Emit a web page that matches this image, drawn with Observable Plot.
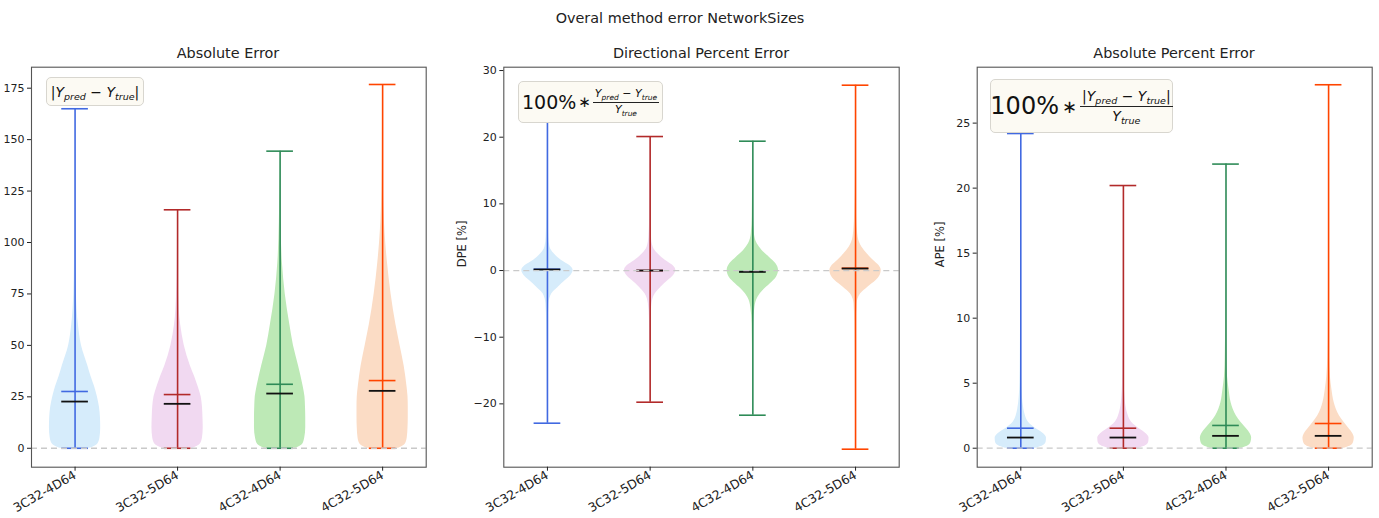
<!DOCTYPE html>
<html>
<head>
<meta charset="utf-8">
<script src="https://cdn.jsdelivr.net/npm/d3@7"></script>
<script src="https://cdn.jsdelivr.net/npm/@observablehq/plot@0.6"></script>
<style>
  body { margin: 0; background: #fff; font-family: "DejaVu Sans", sans-serif; color: #222; }
  #fig { position: relative; width: 1379px; height: 518px; overflow: hidden; background: #fff; }
  .panel { position: absolute; top: 0; }
  .title { position: absolute; white-space: nowrap; transform: translateX(-50%); font-size: 14.4px; line-height: 1; }
  .fbox { position: absolute; box-sizing: border-box; background: #fcfaf3; border: 1px solid #d8d6cf;
          border-radius: 5px; display: flex; align-items: center; justify-content: center; white-space: nowrap;
          font-family: "DejaVu Sans", sans-serif; color: #111; }
  .fbox i { font-style: italic; }
  .fbox sub { font-size: 68%; vertical-align: -0.35em; line-height: 0; }
  .frac { display: inline-flex; flex-direction: column; align-items: center; vertical-align: middle; line-height: 1.15; }
  .frac .num { border-bottom: 1px solid #222; padding: 0 2px 1px 2px; }
  .frac .den { padding-top: 1px; }
</style>
</head>
<body>
<div id="fig">
  <div class="title" style="left:680px;top:11px">Overal method error NetworkSizes</div>
  <div class="title" style="left:228px;top:46px">Absolute Error</div>
  <div class="title" style="left:701px;top:46px">Directional Percent Error</div>
  <div class="title" style="left:1174px;top:46px">Absolute Percent Error</div>
</div>
<script>
// Network size variants shown on every panel
const categories = ["3C32-4D64", "3C32-5D64", "4C32-4D64", "4C32-5D64"];
const lineColors = ["#4169e1", "#b22a2a", "#2e8b57", "#ff4500"];
const fillColors = ["#d6ecfb", "#f1d9f1", "#bde9b6", "#fbdcc5"];

// Absolute Error: extremes, mean, median
const aeMin = [0, 0, 0, 0];
const aeMax = [165.0, 115.9, 144.4, 176.8];
const aeMean = [27.6, 26.1, 31.1, 32.9];
const aeMedian = [22.7, 21.6, 26.6, 27.9];
// Absolute Error: violin outline (value levels and relative half-widths)
const aeLevels = [
  [0, 2, 5, 10, 15, 20, 25, 30, 35, 40, 50, 60, 75, 90, 110, 135, 165.0],
  [0, 2, 5, 10, 15, 20, 25, 30, 35, 40, 50, 60, 75, 90, 115.9],
  [0, 2, 5, 10, 15, 20, 25, 30, 40, 50, 60, 75, 90, 110, 125, 144.4],
  [0, 2, 5, 10, 15, 20, 25, 30, 40, 50, 60, 75, 90, 100, 110, 125, 150, 176.8]
];
const aeWidths = [
  [0.6, 0.88, 0.97, 1.0, 0.99, 0.95, 0.87, 0.76, 0.62, 0.5, 0.25, 0.13, 0.05, 0.025, 0.012, 0.005, 0],
  [0.6, 0.88, 0.97, 1.0, 0.99, 0.97, 0.92, 0.8, 0.66, 0.5, 0.26, 0.12, 0.04, 0.015, 0],
  [0.62, 0.88, 0.96, 1.0, 1.0, 0.99, 0.97, 0.9, 0.72, 0.52, 0.38, 0.2, 0.09, 0.03, 0.012, 0],
  [0.62, 0.88, 0.96, 0.99, 1.0, 1.0, 0.99, 0.95, 0.84, 0.68, 0.52, 0.33, 0.19, 0.12, 0.07, 0.03, 0.008, 0]
];

// Directional Percent Error
const dpeMin = [-22.9, -19.75, -21.7, -26.8];
const dpeMax = [24.0, 20.1, 19.4, 27.8];
const dpeMean = [0.2, 0.0, -0.15, 0.35];
const dpeMedian = [0.15, 0.0, -0.2, 0.3];
const dpeLevels = [
  [-22.9, -15, -8, -5, -3.5, -2.5, -1.5, -0.7, 0, 0.7, 1.5, 2.5, 3.5, 5, 8, 15, 24.0],
  [-19.75, -12, -7, -5, -3.5, -2.5, -1.5, -0.7, 0, 0.7, 1.5, 2.5, 3.5, 5, 8, 14, 20.1],
  [-21.7, -14, -8, -5.5, -4, -3, -2, -1, 0, 1, 2, 3, 4, 5.5, 8, 14, 19.4],
  [-26.8, -15, -8, -5, -3.5, -2.5, -1.5, -0.7, 0, 0.7, 1.5, 2.5, 3.5, 5, 8, 15, 27.8]
];
const dpeWidths = [
  [0, 0.01, 0.03, 0.06, 0.17, 0.42, 0.7, 0.92, 1.0, 0.88, 0.55, 0.26, 0.1, 0.05, 0.03, 0.01, 0],
  [0, 0.01, 0.03, 0.07, 0.2, 0.42, 0.7, 0.92, 1.0, 0.9, 0.6, 0.3, 0.12, 0.05, 0.02, 0.01, 0],
  [0, 0.01, 0.03, 0.08, 0.2, 0.4, 0.68, 0.92, 1.0, 0.9, 0.64, 0.36, 0.17, 0.06, 0.025, 0.01, 0],
  [0, 0.01, 0.03, 0.06, 0.2, 0.48, 0.8, 0.96, 1.0, 0.92, 0.7, 0.45, 0.25, 0.1, 0.04, 0.01, 0]
];

// Absolute Percent Error
const apeMin = [0, 0, 0, 0];
const apeMax = [24.2, 20.2, 21.85, 27.95];
const apeMean = [1.54, 1.54, 1.75, 1.9];
const apeMedian = [0.82, 0.82, 0.95, 0.95];
const apeLevels = [
  [0, 0.2, 0.5, 0.8, 1.1, 1.5, 2, 2.5, 3, 4, 5, 7, 10, 15, 24.2],
  [0, 0.2, 0.5, 0.8, 1.1, 1.5, 2, 2.5, 3, 4, 5, 7, 10, 15, 20.2],
  [0, 0.2, 0.5, 0.8, 1.1, 1.5, 2, 2.5, 3, 3.5, 4.5, 5.5, 7, 10, 15, 21.85],
  [0, 0.2, 0.5, 0.8, 1.1, 1.5, 2, 2.5, 3, 3.5, 4.5, 5.5, 7, 10, 15, 27.95]
];
const apeWidths = [
  [0.6, 0.88, 0.99, 1.0, 0.9, 0.6, 0.3, 0.18, 0.12, 0.06, 0.035, 0.02, 0.01, 0.004, 0],
  [0.6, 0.88, 0.99, 1.0, 0.9, 0.62, 0.32, 0.19, 0.12, 0.06, 0.035, 0.02, 0.01, 0.004, 0],
  [0.62, 0.88, 0.98, 1.0, 0.95, 0.8, 0.58, 0.4, 0.28, 0.2, 0.12, 0.06, 0.03, 0.012, 0.004, 0],
  [0.62, 0.88, 0.98, 1.0, 0.95, 0.8, 0.6, 0.42, 0.3, 0.22, 0.13, 0.07, 0.035, 0.014, 0.005, 0]
];

// Tick values
const aeTicks = [0, 25, 50, 75, 100, 125, 150, 175];
const dpeTicks = [-20, -10, 0, 10, 20, 30];
const apeTicks = [0, 5, 10, 15, 20, 25];

const positions = [1, 2, 3, 4];
const HALF = 0.25;   // violin half-width at peak density
const CAP = 0.13;    // half-length of whisker caps and stat lines

function statsRows(mins, maxs, means, medians) {
  return categories.map((c, i) => ({
    cat: c, pos: positions[i], min: mins[i], max: maxs[i], mean: means[i], median: medians[i],
    line: lineColors[i]
  }));
}
function profileRows(levels, widths) {
  return categories.flatMap((c, i) => levels[i].map((y, j) => ({
    cat: c, pos: positions[i], y, w: widths[i][j], fill: fillColors[i]
  })));
}
const minus = d => (d < 0 ? "\u2212" + Math.abs(d) : String(d));

function panel({left, width, marginLeft, marginRight, domain, ticks, stats, profile, ylabel, labelDx}) {
  const marks = [
    Plot.areaX(profile, {
      y: "y", x1: d => d.pos - HALF * d.w, x2: d => d.pos + HALF * d.w,
      z: "cat", fill: "fill", curve: "monotone-y"
    }),
    Plot.ruleX(stats, {x: "pos", y1: "min", y2: "max", stroke: "line", strokeWidth: 1.6}),
    Plot.ruleY(stats, {y: "max", x1: d => d.pos - CAP, x2: d => d.pos + CAP, stroke: "line", strokeWidth: 1.6}),
    Plot.ruleY(stats, {y: "min", x1: d => d.pos - CAP, x2: d => d.pos + CAP, stroke: "line", strokeWidth: 1.6}),
    Plot.ruleY(stats, {y: "mean", x1: d => d.pos - CAP, x2: d => d.pos + CAP, stroke: "line", strokeWidth: 1.6}),
    Plot.ruleY(stats, {y: "median", x1: d => d.pos - CAP, x2: d => d.pos + CAP, stroke: "#111", strokeWidth: 1.8}),
    Plot.ruleY([0], {stroke: "#c9c9c9", strokeWidth: 1.3, strokeDasharray: "6,4"}),
    Plot.frame({stroke: "#555", strokeWidth: 1.1}),
    Plot.axisY({ticks, tickFormat: minus, tickSize: 4, tickPadding: 3, label: null, fontSize: 11}),
    Plot.axisX({ticks: positions, tickFormat: p => categories[p - 1], tickRotate: -30, tickSize: 4,
                tickPadding: 3, label: null, fontSize: 12.4})
  ];
  if (ylabel) {
    marks.push(Plot.text([ylabel], {frameAnchor: "left", text: d => d, rotate: -90, dx: labelDx,
                                     fontSize: 11.5, fill: "#222"}));
  }
  const svg = Plot.plot({
    width, height: 518,
    marginTop: 66.7, marginBottom: 51.3, marginLeft, marginRight,
    style: {fontFamily: "DejaVu Sans, sans-serif", fontSize: "11px", color: "#222", background: "transparent", overflow: "visible"},
    x: {domain: [0.575, 4.425]},
    y: {domain},
    color: {type: "identity"},
    marks
  });
  const div = document.createElement("div");
  div.className = "panel";
  div.style.left = left + "px";
  div.appendChild(svg);
  document.getElementById("fig").appendChild(div);
}

panel({left: 0, width: 440, marginLeft: 31, marginRight: 14.3, domain: [-9.2, 185.2], ticks: aeTicks,
       stats: statsRows(aeMin, aeMax, aeMean, aeMedian), profile: profileRows(aeLevels, aeWidths)});
panel({left: 460, width: 450, marginLeft: 43.3, marginRight: 11.3, domain: [-29.5, 30.5], ticks: dpeTicks,
       stats: statsRows(dpeMin, dpeMax, dpeMean, dpeMedian), profile: profileRows(dpeLevels, dpeWidths),
       ylabel: "DPE [%]", labelDx: -41});
panel({left: 930, width: 449, marginLeft: 46.7, marginRight: 7.3, domain: [-1.46, 29.3], ticks: apeTicks,
       stats: statsRows(apeMin, apeMax, apeMean, apeMedian), profile: profileRows(apeLevels, apeWidths),
       ylabel: "APE [%]", labelDx: -37});

// Formula boxes naming each error metric
const fig = document.getElementById("fig");
function box(style, html) {
  const d = document.createElement("div");
  d.className = "fbox";
  d.setAttribute("style", style);
  d.innerHTML = html;
  fig.appendChild(d);
}
box("left:46px;top:77px;width:98px;height:29px;font-size:14px",
    '<span>|<i>Y</i><sub><i>pred</i></sub> \u2212 <i>Y</i><sub><i>true</i></sub>|</span>');
box("left:518px;top:81px;width:145px;height:42px",
    '<span style="font-size:19px">100%</span><span style="font-size:15px;margin:0 2px">\u2217</span>' +
    '<span class="frac" style="font-size:11px"><span class="num"><i>Y</i><sub><i>pred</i></sub> \u2212 <i>Y</i><sub><i>true</i></sub></span>' +
    '<span class="den"><i>Y</i><sub><i>true</i></sub></span></span>');
box("left:990px;top:79px;width:183px;height:54px",
    '<span style="font-size:24px">100%</span><span style="font-size:18px;margin:0 3px">\u2217</span>' +
    '<span class="frac" style="font-size:14px"><span class="num">|<i>Y</i><sub><i>pred</i></sub> \u2212 <i>Y</i><sub><i>true</i></sub>|</span>' +
    '<span class="den"><i>Y</i><sub><i>true</i></sub></span></span>');
</script>
</body>
</html>
